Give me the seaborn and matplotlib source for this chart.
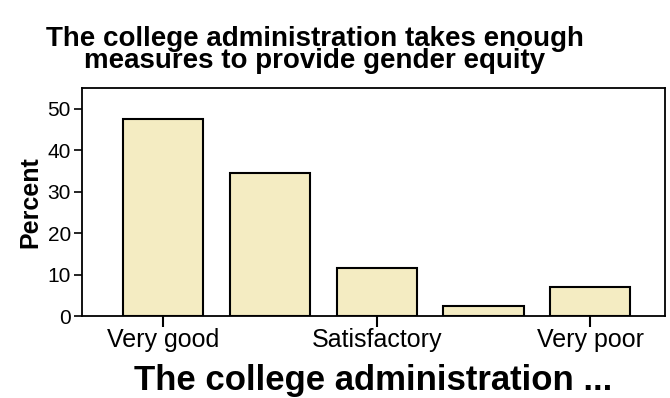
import pandas as pd
import matplotlib.pyplot as plt
import seaborn as sns

# values (percent of respondents)
categories = ['Very good', 'Good', 'Satisfactory', 'Poor', 'Very poor']
percent = [47.5, 34.5, 11.5, 2.5, 7.0]
shown_labels = ['Very good', '', 'Satisfactory', '', 'Very poor']

df = pd.DataFrame({'answer': categories, 'percent': percent})

sns.set_theme(style="white")
plt.rcParams['font.family'] = ['Liberation Sans', 'DejaVu Sans']
plt.rcParams['text.color'] = 'black'
plt.rcParams['axes.labelcolor'] = 'black'
plt.rcParams['xtick.color'] = 'black'
plt.rcParams['ytick.color'] = 'black'

fig = plt.figure(figsize=(6.7, 3.98), dpi=100)
ax = fig.add_axes([82 / 670, 1 - 316 / 398, 583 / 670, 228 / 398])

sns.barplot(data=df, x='answer', y='percent', order=categories,
            color='#f4ecc2', saturation=1, width=0.75,
            edgecolor='black', linewidth=1.5, ax=ax)

ax.set_ylim(0, 55)
ax.set_xlim(-0.76, 4.7)
ax.set_yticks([0, 10, 20, 30, 40, 50])
ax.set_xticks([0, 2, 4])
ax.set_xticklabels([shown_labels[i] for i in [0, 2, 4]], fontsize=18)
ax.tick_params(axis='y', labelsize=15, direction='out', length=6, width=1.2, left=True, pad=2)
ax.tick_params(axis='x', direction='out', length=8, width=1.5, bottom=True, pad=1)
for s in ax.spines.values():
    s.set_color('black')
    s.set_linewidth(1.3)

ax.set_ylabel('Percent', fontsize=18, fontweight='bold', labelpad=4)
ax.set_xlabel('The college administration ...', fontsize=25, fontweight='bold', labelpad=8)
fig.text(315 / 670, 1 - 50 / 398,
         'The college administration takes enough\nmeasures to provide gender equity',
         fontsize=20, fontweight='bold', ha='center', va='center', linespacing=0.85)

fig.savefig('out.png', dpi=100)
